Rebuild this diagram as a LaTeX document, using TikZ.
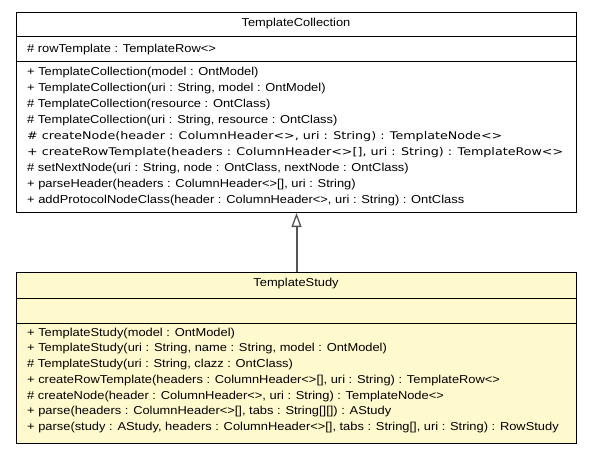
\documentclass[tikz,border=0pt]{standalone}
\usepackage{fontspec}
\setmainfont[FakeStretch=1.12]{Liberation Sans}
\newfontfamily\absfont[FakeStretch=1.2, Scale=0.92]{DejaVu Sans}
\usetikzlibrary{arrows.meta}
\definecolor{studyfill}{HTML}{FFFACD}
\definecolor{linkgray}{HTML}{555555}

\begin{document}
\begin{tikzpicture}[x=1pt, y=-1pt,
        font=\fontsize{11.5}{16}\selectfont,
        cls/.style={draw=black, line width=1pt, anchor=north west, inner sep=0pt,
                    minimum width=560pt},
        sep/.style={draw=black, line width=1pt},
        title/.style={inner sep=0pt},
        members/.style={anchor=north west, inner sep=0pt, align=left},
        gen/.style={-{Triangle[open, length=14pt, width=10pt, line width=1.3pt]},
                    draw=linkgray, line width=2pt}
    ]
    \useasboundingbox (0,0) rectangle (592,453);
    % superclass
    \node[cls, minimum height=200pt, fill=white] (coll) at (16,12) {};
    \draw[sep] (16,36) -- (576,36);
    \draw[sep] (16,61) -- (576,61);
    \node[title] (collname) at (296,24) {TemplateCollection};
    \node[members] (collattr) at (27,43.7) {\# rowTemplate : TemplateRow<>};
    \node[members] (collops) at (27,66.7)
        {+ TemplateCollection(model : OntModel)\\
         + TemplateCollection(uri : String, model : OntModel)\\
         \# TemplateCollection(resource : OntClass)\\
         \# TemplateCollection(uri : String, resource : OntClass)\\
         {\absfont\# createNode(header : ColumnHeader<>, uri : String) : TemplateNode<>}\\
         {\absfont+ createRowTemplate(headers : ColumnHeader<>[], uri : String) : TemplateRow<>}\\
         \# setNextNode(uri : String, node : OntClass, nextNode : OntClass)\\
         + parseHeader(headers : ColumnHeader<>[], uri : String)\\
         + addProtocolNodeClass(header : ColumnHeader<>, uri : String) : OntClass};
    % subclass
    \node[cls, minimum height=171pt, fill=studyfill] (study) at (16,272) {};
    \draw[sep] (16,298) -- (576,298);
    \draw[sep] (16,323) -- (576,323);
    \node[title] (studyname) at (296,284) {TemplateStudy};
    \node[members, font=\fontsize{11.5}{15.7}\selectfont] (studyops) at (27,327.7)
        {+ TemplateStudy(model : OntModel)\\
         + TemplateStudy(uri : String, name : String, model : OntModel)\\
         \# TemplateStudy(uri : String, clazz : OntClass)\\
         + createRowTemplate(headers : ColumnHeader<>[], uri : String) : TemplateRow<>\\
         \# createNode(header : ColumnHeader<>, uri : String) : TemplateNode<>\\
         + parse(headers : ColumnHeader<>[], tabs : String[][]) : AStudy\\
         + parse(study : AStudy, headers : ColumnHeader<>[], tabs : String[], uri : String) : RowStudy};
    \draw[gen] (study.north) -- (coll.south);
\end{tikzpicture}
\end{document}
